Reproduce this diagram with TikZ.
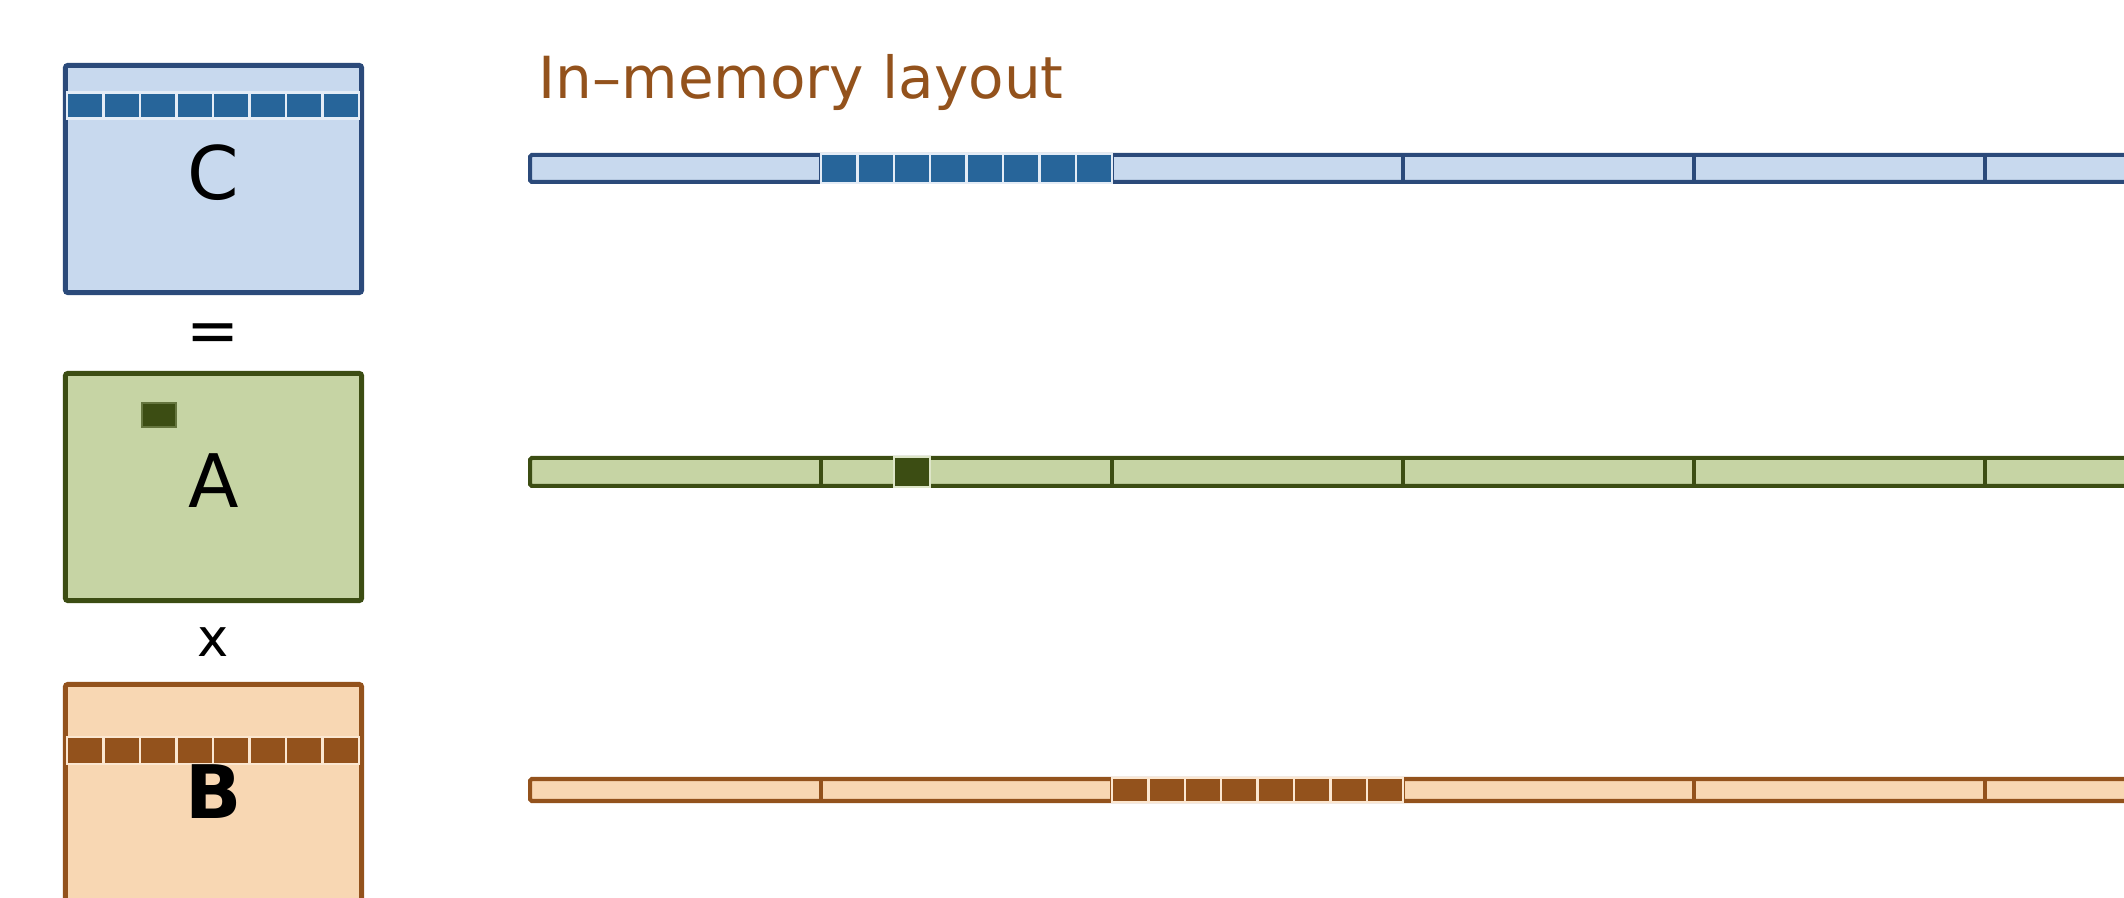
\documentclass[tikz,border=0pt]{standalone}
\usepackage{fontspec}
\setmainfont{DejaVu Sans}
\definecolor{memblue}{HTML}{C8D9EE}
\definecolor{memblueline}{HTML}{2B4A7A}
\definecolor{membluecell}{HTML}{27659A}
\definecolor{memgreen}{HTML}{C6D4A4}
\definecolor{memgreenline}{HTML}{3C4D13}
\definecolor{mempeach}{HTML}{F8D7B3}
\definecolor{mempeachline}{HTML}{93521C}
% eight cells in a row: left x, top y, bottom y, cell width, fill, edge
\newcommand{\cellrow}[6]{%
  \foreach \i in {0,...,7}
    \draw[fill=#5, draw=#6, line width=0.7pt]
      ({#1+\i*#4},#2) rectangle ({#1+(\i+1)*#4},#3);}

\begin{document}
\begin{tikzpicture}[x=0.01cm, y=-0.01cm,
  matbox/.style={line width=1.42pt, rounded corners=0.7pt, inner sep=0pt,
                 minimum width=2.96cm, minimum height=2.27cm},
  strip/.style={line width=1.14pt, rounded corners=0.5pt},
  letter/.style={font=\fontsize{21}{25}\selectfont}]
  \clip (0,0) rectangle (2124,898);

  % the three matrices
  \node[matbox, draw=memblueline, fill=memblue] (C) at (213.5,179) {};
  \node[matbox, draw=memgreenline, fill=memgreen] (A) at (213.5,487) {};
  \node[matbox, draw=mempeachline, fill=mempeach] (B) at (213.5,798) {};

  \cellrow{67}{92.5}{118.5}{36.5}{membluecell}{memblue!50!white}
  \draw[fill=memgreenline, draw=memgreenline!70!memgreen, line width=0.45pt]
    (142,403) rectangle (176,427);
  \cellrow{67}{737}{764}{36.5}{mempeachline}{mempeach!60!white}

  \node[letter] (Clab) at (213.5,173) {C};
  \node[letter] (Alab) at (213.5,481) {A};
  \node[letter, font=\fontsize{21}{25}\selectfont\bfseries] (Blab) at (213.5,792) {B};
  \node[font=\fontsize{18}{20}\selectfont] (equals) at (213.5,338) {=};
  \node[font=\fontsize{15}{18}\selectfont] (times) at (213.5,642) {x};

  % in-memory layout
  \node[anchor=base west, text=mempeachline, inner sep=0pt,
        font=\fontsize{16.5}{20}\selectfont] (title) at (538,99)
    {In–memory layout};

  \draw[strip, draw=memblueline, fill=memblue] (530,155) rectangle (2200,182);
  \draw[strip, draw=memgreenline, fill=memgreen] (530,458) rectangle (2200,486);
  \draw[strip, draw=mempeachline, fill=mempeach] (530,779) rectangle (2200,801);
  \foreach \k in {1,...,5} {
    \draw[strip, draw=memblueline] ({530+291*\k},155) -- ({530+291*\k},182);
    \draw[strip, draw=memgreenline] ({530+291*\k},458) -- ({530+291*\k},486);
    \draw[strip, draw=mempeachline] ({530+291*\k},779) -- ({530+291*\k},801);
  }
  \cellrow{821}{154}{183}{36.4}{membluecell}{memblue!50!white}
  \draw[fill=memgreenline, draw=memgreen!60!white, line width=0.7pt]
    (893.8,457) rectangle (930.2,487);
  \cellrow{1112}{778}{802}{36.4}{mempeachline}{mempeach!60!white}
\end{tikzpicture}
\end{document}
